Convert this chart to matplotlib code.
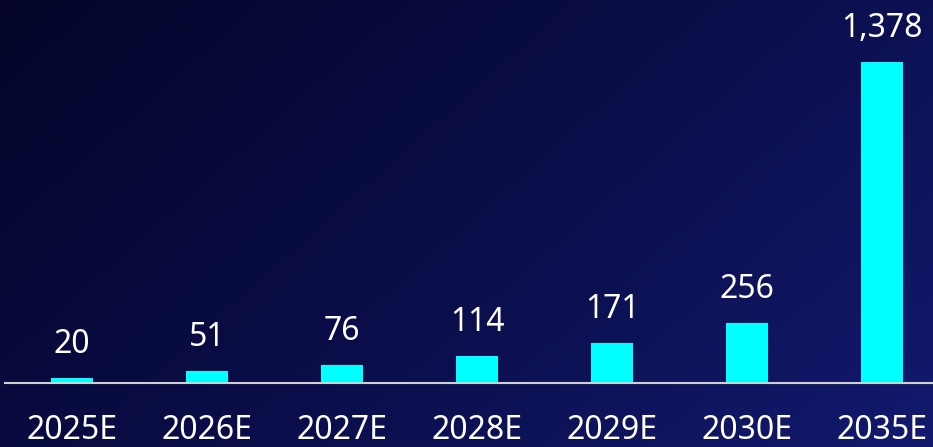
import numpy as np
import matplotlib
matplotlib.use('Agg')
import matplotlib.pyplot as plt
from matplotlib.colors import LinearSegmentedColormap

years = ['2025E', '2026E', '2027E', '2028E', '2029E', '2030E', '2035E']
values = [20, 51, 76, 114, 171, 256, 1378]

plt.rcParams['font.family'] = ['Noto Sans', 'DejaVu Sans']

fig = plt.figure(figsize=(9.33, 4.47), dpi=100)

# diagonal gradient background
bg = fig.add_axes([0, 0, 1, 1], zorder=0)
gx, gy = np.meshgrid(np.linspace(0, 1, 300), np.linspace(0, 1, 150))
grad = (gx * 0.65 + gy * 0.35)
cmap = LinearSegmentedColormap.from_list('bg', ['#05062a', '#0a0d48', '#131a6e'])
bg.imshow(grad, cmap=cmap, aspect='auto', extent=[0, 1, 0, 1], origin='upper')
bg.axis('off')

ax = fig.add_axes([5 / 933, 64 / 447, 928 / 933, 383 / 447], zorder=1)
ax.patch.set_alpha(0)
x = np.arange(len(years))
bars = ax.bar(x, values, width=0.31, color='#00ffff')

for xi, v in zip(x, values):
    ax.annotate(f'{v:,}', (xi, v), xytext=(0, 18), textcoords='offset points',
                ha='center', va='baseline', color='white', fontsize=23)

ax.set_xlim(-0.496, 6.378)
ax.set_ylim(0, 1644)
ax.set_xticks(x)
ax.set_xticklabels(years, color='white', fontsize=23)
ax.tick_params(axis='x', length=0, pad=22)
ax.set_yticks([])
for s in ['top', 'right', 'left']:
    ax.spines[s].set_visible(False)
ax.spines['bottom'].set_color('#d0d0d0')
ax.spines['bottom'].set_linewidth(1.5)

fig.savefig('out.png', dpi=100)
